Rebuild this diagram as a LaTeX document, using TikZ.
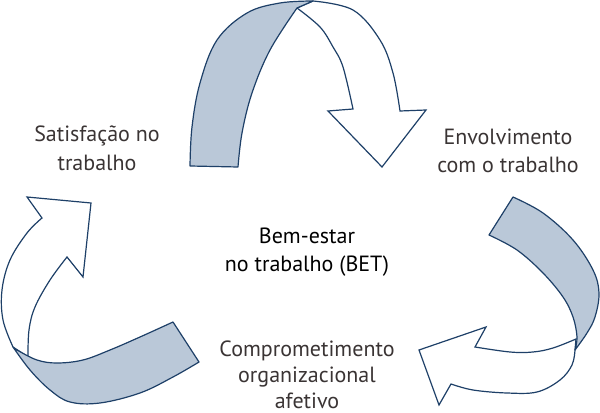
\documentclass[tikz,border=0pt]{standalone}
\usepackage{fontspec}
\setmainfont{PT Sans}
\begin{document}
\begin{tikzpicture}[x=0.75pt,y=-0.75pt,
  band/.style={draw=arrowline, fill=bandfill, line width=0.9pt, line join=round},
  whitearrow/.style={draw=arrowline, fill=white, line width=0.9pt, line join=miter},
  label/.style={text=labeltext, align=center, font=\fontsize{16.5}{21.5}\selectfont, inner sep=0pt},
  centre/.style={text=black, align=center, font=\fontsize{16.5}{21.5}\selectfont, inner sep=0pt}]
\definecolor{arrowline}{HTML}{1E4068}
\definecolor{bandfill}{HTML}{BAC8D8}
\definecolor{labeltext}{HTML}{3A3434}
\useasboundingbox (0,0) rectangle (600,413);

% top arrow
\draw[whitearrow] (297,8) -- plot[smooth, tension=0.6] coordinates {(297,8) (320,27) (333,47) (343,67) (353,109)}
  -- (328,111) -- (382,167) -- (426,110) -- (400,111)
  -- plot[smooth, tension=0.6] coordinates {(400,111) (393,73) (380,40) (353,10) (313,1)} -- cycle;
\draw[band] (190,166) -- plot[smooth, tension=0.6] coordinates {(190,166) (192,127) (200,83) (217,40) (247,13) (280,3) (313,1)}
  -- (297,8) -- plot[smooth, tension=0.6] coordinates {(297,8) (270,50) (252,93) (242,133) (238,167)} -- cycle;

% right arrow
\draw[whitearrow] (576,339) -- plot[smooth, tension=0.6] coordinates {(576,339) (553,348) (533,352) (510,352) (475,347)}
  -- (486,327) -- (419,350) -- (439,405) -- (451,384)
  -- plot[smooth, tension=0.6] coordinates {(451,384) (473,390) (507,393) (537,392) (560,380) (572,365) (575,350)} -- cycle;
\draw[band] (513,197) -- plot[smooth, tension=0.6] coordinates {(513,197) (543,213) (573,240) (593,270) (599,293) (595,317) (587,333) (575,350)}
  -- plot[smooth, tension=0.6] coordinates {(575,350) (577,337) (573,317) (563,297) (543,273) (517,250) (489,235)} -- cycle;

% left arrow
\draw[whitearrow] (13,347) -- plot[smooth, tension=0.6] coordinates {(13,347) (3,320) (2,290) (10,260) (27,233) (42,218)}
  -- (27,197) -- (91,203) -- (83,277) -- (67,257)
  -- plot[smooth, tension=0.6] coordinates {(67,257) (50,280) (35,307) (29,330) (28,357)} -- cycle;
\draw[band] (173,322) -- plot[smooth, tension=0.6] coordinates {(173,322) (140,337) (110,350) (83,360) (57,363) (37,360) (17,350) (13,347)}
  -- plot[smooth, tension=0.6] coordinates {(13,347) (30,370) (50,390) (70,402) (100,403) (140,393) (173,377) (199,362)} -- cycle;

% texts
\node[label] (sat) at (97,148) {Satisfação no\\trabalho};
\node[label] (env) at (508,151) {Envolvimento\\com o trabalho};
\node[centre] (bet) at (307,252) {Bem-estar\\no trabalho (BET)};
\node[label, font=\fontsize{16.5}{19.5}\selectfont] (com) at (307,375) {Comprometimento\\organizacional\\afetivo};
\end{tikzpicture}
\end{document}
